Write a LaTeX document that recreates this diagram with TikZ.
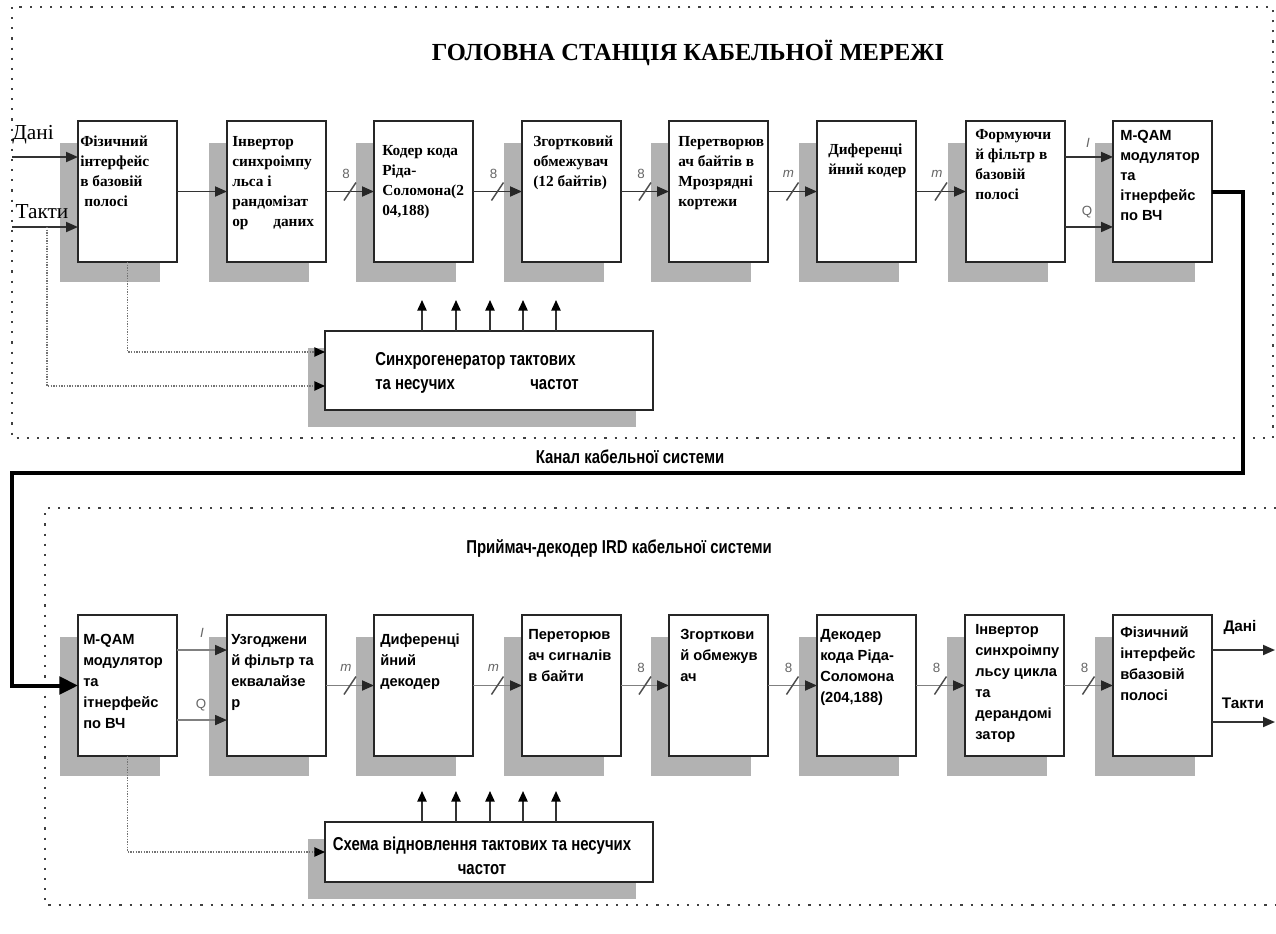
\documentclass[tikz,border=0pt]{standalone}
\usepackage{fontspec}
\setmainfont{Liberation Serif}
\setsansfont{Liberation Sans}
\newfontfamily\narrowfont[FakeStretch=0.8]{Liberation Sans}
\usetikzlibrary{arrows.meta,calc}

\newcommand{\mkblock}[6]{%
  \fill[shade] (#2-18,#3+22) rectangle (#2+82,#3+161);
  \node[blockbox] (#1) at (#2+49.5,#3+70.5) {};
  \node[#4] (#1t) at ([shift={(#5)}]#1.north west) {#6};
}
\newcommand{\mkbus}[4]{%
  \draw[#4] (#1.east) -- (#2.west);
  \coordinate (#1m) at ($(#1.east)!0.5!(#2.west)$);
  \draw[slashln] ($(#1m)+(-6,9)$) -- ($(#1m)+(6,-9)$);
  \node[buslbl] (#1l) at ($(#1m)+(-4,-18)$) {#3};
}

\begin{document}
\begin{tikzpicture}[x=0.75pt,y=-0.75pt,
  blockbox/.style={draw=black!85,line width=1.4pt,fill=white,minimum width=74.25pt,minimum height=105.75pt,inner sep=0pt,outer sep=0pt},
  syncbox/.style={draw=black!85,line width=1.4pt,fill=white,minimum width=246pt,inner sep=0pt,outer sep=0pt},
  shade/.style={fill=black!30},
  serifbox/.style={anchor=north west,inner sep=0pt,align=left,font=\fontsize{11.5}{15}\selectfont\bfseries},
  sansboxT/.style={anchor=north west,inner sep=0pt,align=left,font=\fontsize{11}{15}\selectfont\sffamily\bfseries},
  sansbox/.style={anchor=north west,inner sep=0pt,align=left,font=\fontsize{11}{15.75}\selectfont\sffamily\bfseries},
  arrT/.style={draw=black!80,line width=1.4pt,-{Triangle[length=9pt,width=7.5pt,color=black!85]}},
  arrB/.style={draw=black!50,line width=1.4pt,-{Triangle[length=9pt,width=7.5pt,color=black!85]}},
  upa/.style={draw=black!80,line width=1.2pt,-{Triangle[length=8pt,width=7pt,color=black]}},
  dotc/.style={draw=black!55,line width=1pt,dash pattern=on 1pt off 1pt,-{Triangle[length=8pt,width=7pt,color=black]}},
  slashln/.style={draw=black!70,line width=1.1pt},
  buslbl/.style={font=\sffamily\fontsize{10}{10}\selectfont,text=black!60,inner sep=0pt},
  iqlbl/.style={font=\sffamily\fontsize{10}{10}\selectfont,text=black!60,inner sep=0pt},
  frame/.style={draw=black!75,line width=1.6pt,dash pattern=on 1.6pt off 6pt},
  chan/.style={draw=black,line width=3pt,line join=miter,-{Triangle[length=14pt,width=13pt]}},
  narrowlbl/.style={font=\narrowfont\bfseries\fontsize{14}{18}\selectfont,inner sep=0pt},
  inlbl/.style={font=\fontsize{16}{18}\selectfont,inner sep=0pt},
  outlbl/.style={font=\sffamily\bfseries\fontsize{11.5}{13}\selectfont,inner sep=0pt}
]
\fill[white] (0,0) rectangle (1276,933);
\useasboundingbox (0,0) rectangle (1276,933);

% frames
\draw[frame] (12,7) rectangle (1273,438);
\draw[frame] (1276,508) -- (45,508) -- (45,905) -- (1276,905);

% title
\node[font=\fontsize{18.4}{20}\selectfont\bfseries,inner sep=0pt] (title) at (688,53) {ГОЛОВНА СТАНЦІЯ КАБЕЛЬНОЇ МЕРЕЖІ};

% top row
\mkblock{b1}{78}{121}{serifbox}{2,15}{Фізичний\\інтерфейс\\в базовій\\\hspace*{3pt}полосі}
\mkblock{b2}{227}{121}{serifbox}{5,15}{Інвертор\\синхроімпу\\льса і\\рандомізат\\\makebox[30.75pt][l]{ор}даних}
\mkblock{b3}{374}{121}{serifbox}{8,24}{Кодер кода\\Ріда-\\Соломона(2\\04,188)}
\mkblock{b4}{522}{121}{serifbox}{11,15}{Згортковий\\обмежувач\\(12 байтів)}
\mkblock{b5}{669}{121}{serifbox}{9,15}{Перетворюв\\ач байтів в\\Мрозрядні\\кортежи}
\mkblock{b6}{817}{121}{serifbox}{11,23}{Диференці\\йний кодер}
\mkblock{b7}{966}{121}{serifbox}{9,8}{Формуючи\\й фільтр в\\базовій\\полосі}
\mkblock{b8}{1113}{121}{sansboxT}{7,9}{M-QAM\\модулятор\\та\\ітнерфейс\\по ВЧ}

% top sync box
\fill[shade] (308,348) rectangle (636,427);
\node[syncbox,minimum height=59.25pt] (sy1) at (489,370.5) {};
\node[narrowlbl,anchor=north west,align=left] (sy1t) at (375,352) {Синхрогенератор тактових\\\makebox[116.25pt][l]{та несучих}частот};

% bottom row
\mkblock{r1}{78}{615}{sansbox}{5,19}{M-QAM\\модулятор\\та\\ітнерфейс\\по ВЧ}
\mkblock{r2}{227}{615}{sansbox}{4,19}{Узгоджени\\й фільтр та\\еквалайзе\\р}
\mkblock{r3}{374}{615}{sansbox}{6,19}{Диференці\\йний\\декодер}
\mkblock{r4}{522}{615}{sansbox}{6,14}{Переторюв\\ач сигналів\\в байти}
\mkblock{r5}{669}{615}{sansbox}{11,14}{Згорткови\\й обмежув\\ач}
\mkblock{r6}{817}{615}{sansbox}{3,14}{Декодер\\кода Ріда-\\Соломона\\(204,188)}
\mkblock{r7}{965}{615}{sansbox}{10,9}{Інвертор\\синхроімпу\\льсу цикла\\та\\дерандомі\\затор}
\mkblock{r8}{1113}{615}{sansbox}{7,11}{Фізичний\\інтерфейс\\вбазовій\\полосі}

% bottom sync box
\fill[shade] (308,839) rectangle (636,899);
\node[syncbox,minimum height=45pt] (sy2) at (489,852) {};
\node[narrowlbl,align=center] (sy2t) at (482,856) {Схема відновлення тактових та несучих\\частот};

% inputs
\coordinate (inD) at (12,157);
\coordinate (inT) at (12,227);
\draw[arrT] (inD) -- (b1.west |- inD);
\draw[arrT] (inT) -- (b1.west |- inT);
\node[inlbl] (lD) at (33,135) {Дані};
\node[inlbl] (lT) at (42,212) {Такти};

% top connections
\draw[arrT] (b1) -- (b2);
\mkbus{b2}{b3}{8}{arrT}
\mkbus{b3}{b4}{8}{arrT}
\mkbus{b4}{b5}{8}{arrT}
\mkbus{b5}{b6}{\textit{m}}{arrT}
\mkbus{b6}{b7}{\textit{m}}{arrT}
\draw[arrT] ([yshift=25.9pt]b7.east) -- ([yshift=25.9pt]b8.west);
\draw[arrT] ([yshift=-26.6pt]b7.east) -- ([yshift=-26.6pt]b8.west);
\node[iqlbl] (tI) at (1088,143) {\textit{I}};
\node[iqlbl] (tQ) at (1087,212) {Q};

% top sync connections
\coordinate (tk) at (47,227);
\draw[dotc] (b1.south) |- ([yshift=13.9pt]sy1.west);
\draw[dotc] (tk) |- ([yshift=-11.6pt]sy1.west);
\foreach \dx in {-67,-33,1,34,67}
  \draw[upa] ([xshift=\dx*0.75pt]sy1.north) -- ++(0,-31);

% channel
\coordinate (k1) at (1243,191.5);
\coordinate (k2) at (1243,473);
\coordinate (k3) at (12,473);
\coordinate (k4) at (12,685.5);
\draw[chan] (b8.east) -- (k1) -- (k2) -- (k3) -- (k4) -- (r1.west);
\node[narrowlbl] (chl) at (630,457) {Канал кабельної системи};
\node[narrowlbl] (rxl) at (619,548) {Приймач-декодер IRD кабельної системи};

% bottom connections
\draw[arrB] ([yshift=26.6pt]r1.east) -- ([yshift=26.6pt]r2.west);
\draw[arrB] ([yshift=-25.9pt]r1.east) -- ([yshift=-25.9pt]r2.west);
\node[iqlbl] (bI) at (202,633) {\textit{I}};
\node[iqlbl] (bQ) at (201,705) {Q};
\mkbus{r2}{r3}{\textit{m}}{arrB}
\mkbus{r3}{r4}{\textit{m}}{arrB}
\mkbus{r4}{r5}{8}{arrB}
\mkbus{r5}{r6}{8}{arrB}
\mkbus{r6}{r7}{8}{arrB}
\mkbus{r7}{r8}{8}{arrB}

% outputs
\coordinate (oD) at (1275,650);
\coordinate (oT) at (1275,722);
\draw[arrT] (r8.east |- oD) -- (oD);
\draw[arrT] (r8.east |- oT) -- (oT);
\node[outlbl] (olD) at (1240,627) {Дані};
\node[outlbl] (olT) at (1243,703) {Такти};

% bottom sync connections
\draw[dotc] (r1.south) |- (sy2.west);
\foreach \dx in {-67,-33,1,34,67}
  \draw[upa] ([xshift=\dx*0.75pt]sy2.north) -- ++(0,-31);
\end{tikzpicture}
\end{document}
